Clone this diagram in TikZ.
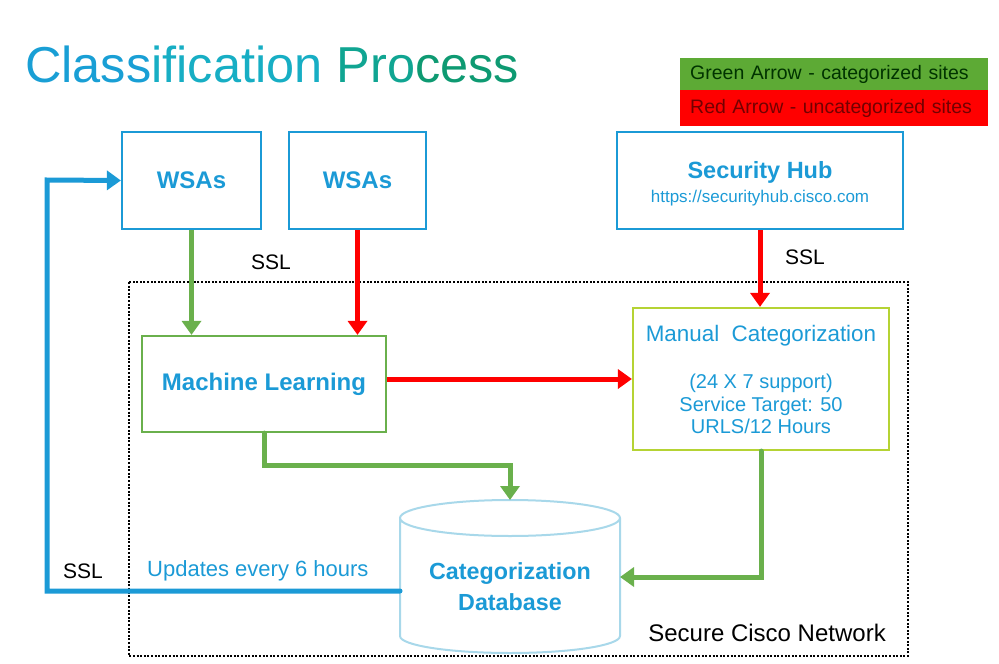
\documentclass[tikz,border=0pt]{standalone}
\usepackage{fontspec}
\setmainfont{Liberation Sans}
\usetikzlibrary{arrows.meta}
\definecolor{cblue}{HTML}{1B9AD6}
\definecolor{cgreen}{HTML}{6AB04C}
\definecolor{cred}{HTML}{FF0000}
\definecolor{cyg}{HTML}{B5D334}
\definecolor{clblue}{HTML}{A8D8EA}
\definecolor{lgreen}{HTML}{5DAA35}
\begin{document}
\begin{tikzpicture}[x=1pt,y=-1pt,
  gflow/.style={draw=cgreen,line width=5pt,-{Triangle[length=14pt,width=19pt]}},
  rflow/.style={draw=cred,line width=5pt,-{Triangle[length=14pt,width=19pt]}},
  bflow/.style={draw=cblue,line width=5pt,-{Triangle[length=14pt,width=19pt]}},
  lbl/.style={font=\fontsize{21}{24}\selectfont,inner sep=0pt}]
\useasboundingbox (0,0) rectangle (999,664);
% title
\node[anchor=base west,inner sep=0pt,font=\fontsize{50.5}{54}\selectfont] (title) at (25,82)
 {\textcolor[HTML]{199FD5}{Class}\textcolor[HTML]{17AEC4}{ification} \textcolor[HTML]{10A592}{Pro}\textcolor[HTML]{0E9A72}{cess}};
% legend
\node[fill=lgreen,minimum width=308pt,minimum height=32pt,inner xsep=10pt,inner ysep=0pt,text width=288pt,anchor=north west,font=\fontsize{19.5}{21}\selectfont,text=black!80!green] (lg) at (680,58) {Green Arrow - categorized sites};
\node[fill=cred,minimum width=308pt,minimum height=36pt,inner xsep=10pt,inner ysep=0pt,text width=288pt,anchor=north west,font=\fontsize{19.5}{21}\selectfont,text=red!45!black] (lr) at (680,90) {Red Arrow - uncategorized sites};
% secure network
\draw[line width=2.5pt,dash pattern=on 2pt off 1.6pt] (129,282) rectangle (908,656);
\node[anchor=base east,inner sep=0pt,font=\fontsize{24}{26}\selectfont] (scn) at (886,641) {Secure Cisco Network};
% boxes
\node[draw=cblue,line width=2.2pt,minimum width=139pt,minimum height=97pt,inner sep=0pt,text=cblue,font=\bfseries\fontsize{24}{26}\selectfont] (w1) at (191.5,180.5) {WSAs};
\node[draw=cblue,line width=2.2pt,minimum width=137pt,minimum height=97pt,inner sep=0pt,text=cblue,font=\bfseries\fontsize{24}{26}\selectfont] (w2) at (357.5,180.5) {WSAs};
\node[draw=cblue,line width=2.2pt,minimum width=286pt,minimum height=97pt,inner sep=0pt,text=cblue,align=center] (sh) at (760,180.5) {};
\node[text=cblue,anchor=base,inner sep=0pt,font=\bfseries\fontsize{23.5}{26}\selectfont] (sht) at (760,178) {Security Hub};
\node[text=cblue,anchor=base,inner sep=0pt,font=\fontsize{17}{18}\selectfont] (shu) at (760,202) {https://securityhub.cisco.com};
\node[draw=cgreen,line width=2.2pt,minimum width=244pt,minimum height=96pt,inner sep=0pt,text=cblue,font=\bfseries\fontsize{24}{26}\selectfont] (ml) at (264,384) {Machine Learning};
\node[draw=cyg,line width=2.2pt,minimum width=256pt,minimum height=142pt,inner sep=0pt,text=cblue,align=center] (mc) at (761,379) {};
\node[text=cblue,anchor=base,inner sep=0pt,font=\fontsize{22.4}{24}\selectfont] (mct) at (761,341) {Manual\ \ Categorization};
\node[text=cblue,anchor=north,inner sep=0pt,align=center,font=\fontsize{20}{22.5}\selectfont] (mcs) at (761,374) {(24 X 7 support)\\Service Target: 50\\URLS/12 Hours};
% cylinder
\coordinate (dbtop) at (510,500);
\coordinate (dbright) at (620,577);
\coordinate (dbleft) at (400,591);
\draw[clblue,line width=2pt,fill=white] (400,518) -- (400,636) arc[start angle=180,end angle=360,x radius=110,y radius=-17] -- (620,518) arc[start angle=0,end angle=360,x radius=110,y radius=-18];
\node[text=cblue,align=center,font=\bfseries\fontsize{23.3}{31}\selectfont,inner sep=0pt] (db) at (510,587) {Categorization\\Database};
% arrows
\draw[gflow] (w1.south) -- (w1.south |- ml.north);
\draw[rflow] (w2.south) -- (w2.south |- ml.north);
\draw[rflow] (sh.south) -- (sh.south |- mc.north);
\draw[rflow] (ml.east |- 0,379) -- (mc.west |- 0,379);
\draw[gflow,line cap=round] (ml.south) -- (264,465) -- (510,465) -- (dbtop);
\draw[gflow,line cap=round] (mc.south) -- (mc.south |- dbright) -- (dbright);
\draw[bflow,line cap=round] (dbleft) -- (47,591) -- (47,180) -- (w1.west);
% labels
\node[lbl] (ssl1) at (271,262) {SSL};
\node[lbl] (ssl2) at (805,257) {SSL};
\node[lbl] (ssl3) at (83,571) {SSL};
\node[lbl,anchor=west,text=cblue,font=\fontsize{22}{24}\selectfont] (upd) at (147,571) {Updates every 6 hours};
\end{tikzpicture}
\end{document}
